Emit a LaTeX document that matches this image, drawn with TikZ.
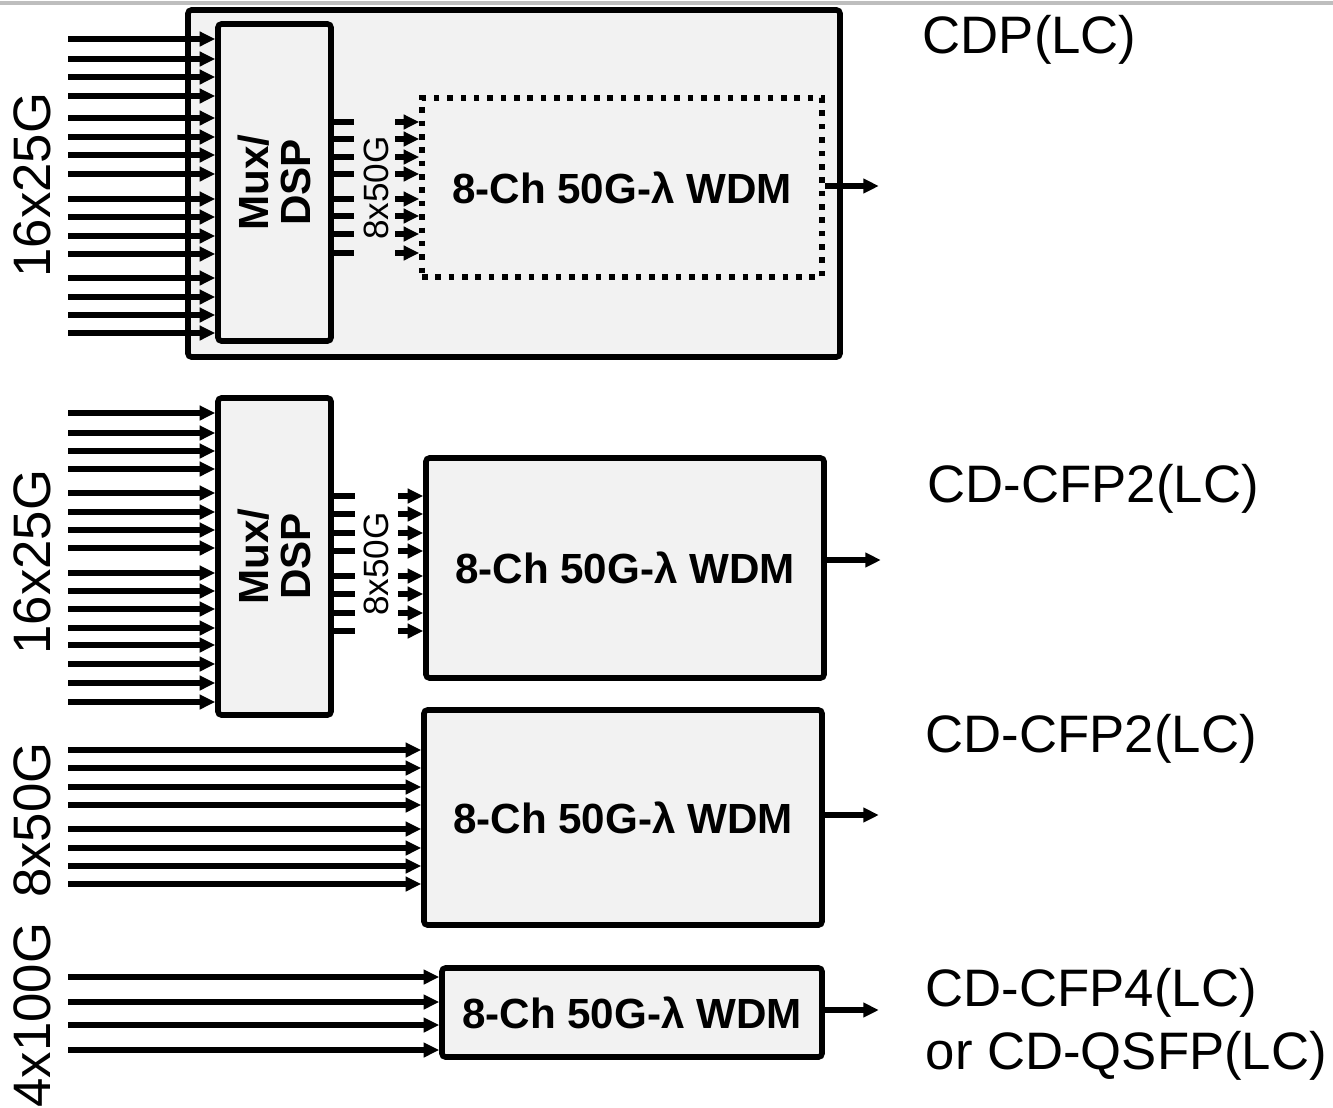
\documentclass[tikz,border=0pt]{standalone}
\usepackage{fontspec}
\setmainfont{Liberation Sans}
\usetikzlibrary{arrows.meta}
\definecolor{hellgrau}{HTML}{F2F2F2}
\definecolor{randgrau}{HTML}{BEBEBE}
\begin{document}
\begin{tikzpicture}[
      x=0.1mm, y=-0.1mm,
      font=\fontsize{15}{18}\selectfont,
      box/.style={draw, line width=1.6pt, fill=hellgrau, rounded corners=1pt, inner sep=0pt},
      wdm/.style={box, font=\fontsize{12}{12}\selectfont\bfseries},
      mux/.style={box, minimum width=11.3mm, minimum height=31.7mm},
      muxtext/.style={rotate=90, align=center, inner sep=0pt, font=\fontsize{12}{12}\selectfont\bfseries},
      pfeil/.style={-{Triangle[length=4.4pt, width=4pt]}, line width=1.5pt},
      stummel/.style={line width=1.5pt},
      rate/.style={rotate=90, inner sep=0pt},
      klein/.style={rotate=90, inner sep=0pt, font=\fontsize{10}{10}\selectfont},
      ziel/.style={anchor=base west, inner sep=0pt}
    ]
      \useasboundingbox (0,0) rectangle (1333,1107);
      \draw[line width=0.9pt, randgrau] (0,3) -- (1333,3);
      % CDP(LC)
      \node[box, minimum width=65.2mm, minimum height=34.7mm] (cdp) at (514,183.5) {};
      \node[mux] (mux1) at (274.5,182.5) {};
      \node[muxtext] (mt1) at (mux1.center) {Mux/\\DSP};
      \node[wdm, fill=none, rounded corners=0pt, dash pattern=on 1.6pt off 2.2pt, minimum width=40mm, minimum height=17.9mm] (wdm1) at (622,187.5) {8-Ch 50G-λ WDM};
      \foreach \y in {39,59,77,96,118,137,155,174,199,217,236,254,278,297,315,333}
        \draw[pfeil] (68,\y) -- (mux1.west |- 0,\y);
      \foreach \y in {122,139,157,174,199,216,234,253} {
        \draw[stummel] (mux1.east |- 0,\y) -- ++(20,0);
        \draw[pfeil] (395,\y) -- (wdm1.west |- 0,\y);
      }
      \draw[pfeil] ([yshift=0.15mm]wdm1.east) -- ++(54,0);
      \node[rate] (r1) at (32,185) {16x25G};
      \node[klein] (k1) at (376,188) {8x50G};
      \node[ziel] (l1) at (922,53) {CDP(LC)};
      % CD-CFP2(LC) mit Mux
      \node[mux] (mux2) at (274.5,556.5) {};
      \node[muxtext] (mt2) at (mux2.center) {Mux/\\DSP};
      \node[wdm, minimum width=39.8mm, minimum height=22mm] (wdm2) at (625,568) {8-Ch 50G-λ WDM};
      \foreach \y in {413,433,451,469,493,512,530,548,573,591,609,628,645,664,683,702}
        \draw[pfeil] (68,\y) -- (mux2.west |- 0,\y);
      \foreach \y in {496,514,533,551,576,594,613,631} {
        \draw[stummel] (mux2.east |- 0,\y) -- ++(21,0);
        \draw[pfeil] (398,\y) -- (wdm2.west |- 0,\y);
      }
      \draw[pfeil] ([yshift=0.8mm]wdm2.east) -- ++(54,0);
      \node[rate] (r2) at (32,562) {16x25G};
      \node[klein] (k2) at (376,564) {8x50G};
      \node[ziel] (l2) at (927,502) {CD-CFP2(LC)};
      % CD-CFP2(LC) direkt
      \node[wdm, minimum width=39.8mm, minimum height=21.5mm] (wdm3) at (623,817.5) {8-Ch 50G-λ WDM};
      \foreach \y in {750,768,787,805,829,848,866,884}
        \draw[pfeil] (68,\y) -- (wdm3.west |- 0,\y);
      \draw[pfeil] ([yshift=0.25mm]wdm3.east) -- ++(54,0);
      \node[rate] (r3) at (32,820) {8x50G};
      \node[ziel] (l3) at (925,752) {CD-CFP2(LC)};
      % CD-CFP4(LC) / CD-QSFP(LC)
      \node[wdm, minimum width=38mm, minimum height=8.9mm] (wdm4) at (632,1012.5) {8-Ch 50G-λ WDM};
      \foreach \y in {977,1002,1025,1050}
        \draw[pfeil] (68,\y) -- (wdm4.west |- 0,\y);
      \draw[pfeil] ([yshift=0.25mm]wdm4.east) -- ++(54,0);
      \node[rate] (r4) at (32,1015) {4x100G};
      \node[ziel] (l4) at (925,1006) {CD-CFP4(LC)};
      \node[ziel] (l5) at (925,1069) {or CD-QSFP(LC)};
    \end{tikzpicture}
\end{document}
